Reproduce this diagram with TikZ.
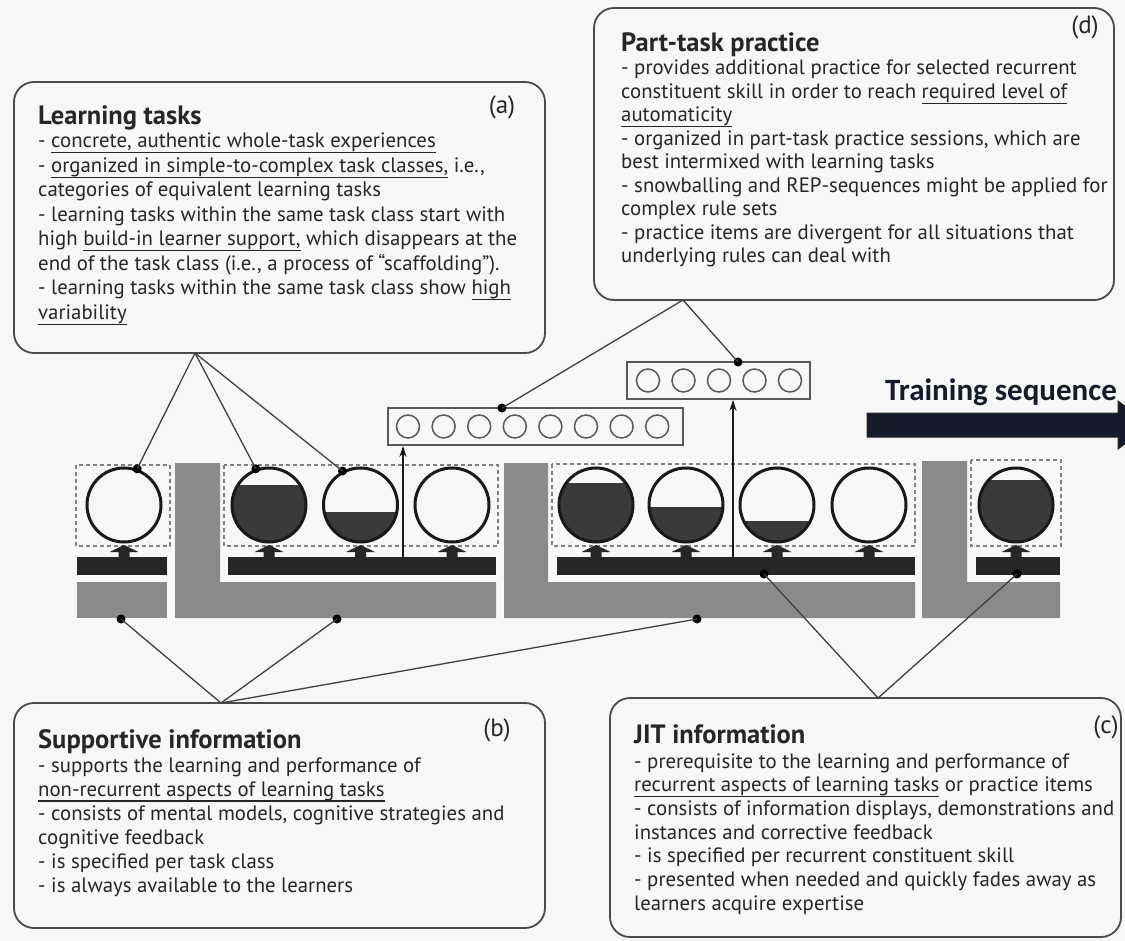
\documentclass[tikz,border=0pt]{standalone}
\usepackage{fontspec}
\setmainfont{PT Sans}
\newfontfamily\calib{Carlito}
\usetikzlibrary{arrows.meta}

\definecolor{bg}{HTML}{F7F7F7}
\definecolor{navy}{HTML}{151B2A}
\definecolor{boxline}{HTML}{4A4A4A}
\definecolor{grayblk}{HTML}{8A8A8A}
\definecolor{darkbar}{HTML}{262626}
\definecolor{ballfill}{HTML}{3A3A3A}
\definecolor{inkc}{HTML}{262626}

\newcommand{\ulx}[1]{\setbox0\hbox{#1}\rlap{\rule[-5.5pt]{\wd0}{1.3pt}}\box0\relax}
\newcommand{\upfat}[1]{\fill[darkbar] ({#1-5.5},558) -- ({#1-5.5},552) -- ({#1-14.5},552) -- (#1,545) -- ({#1+14.5},552) -- ({#1+5.5},552) -- ({#1+5.5},558) -- cycle;}
\newcommand{\textlines}[5]{%
  \foreach \t [count=\i] in {#5} {
    \node[body] (#1-\i) at (#2,{#3+(\i-1)*#4}) {\t};
  }}

\begin{document}
\begin{tikzpicture}[x=1pt,y=-1pt,
  infobox/.style={draw=boxline, line width=1.8pt, rounded corners=20pt, inner sep=0pt},
  body/.style={anchor=base west, inner sep=0pt, text=inkc, font=\fontsize{20.8}{25}\selectfont},
  titletxt/.style={anchor=base west, inner sep=0pt, text=inkc, font=\bfseries\fontsize{26.5}{31}\selectfont},
  lbl/.style={anchor=center, inner sep=0pt, text=inkc, font=\fontsize{25}{30}\selectfont},
  ball/.style={circle, draw=black!90, line width=3pt, minimum size=74pt, inner sep=0pt},
  smallball/.style={circle, draw=black!65, line width=1.5pt, minimum size=23pt, inner sep=0pt},
  smallbox/.style={draw=black!65, line width=1.6pt, inner sep=0pt},
  dotbox/.style={draw=black!50, line width=1.6pt, dash pattern=on 4pt off 3pt},
  dot/.style={circle, fill=black, inner sep=0pt, minimum size=9pt},
  conn/.style={draw=black!75, line width=1.3pt},
  thinarrow/.style={draw=black!90, line width=2pt, -{Stealth[length=11pt,width=7pt]}},
  trainlbl/.style={anchor=base west, inner sep=0pt, text=navy, font=\calib\bfseries\fontsize{31}{36}\selectfont}
]
\useasboundingbox (0,0) rectangle (1125,941);
\clip (0,0) rectangle (1125,941);
\fill[bg] (0,0) rectangle (1125,941);

% gray blocks
\fill[grayblk] (77,582) rectangle (167,618);
\fill[grayblk] (175,463) -- (220,463) -- (220,582) -- (496,582) -- (496,618) -- (175,618) -- cycle;
\fill[grayblk] (504,463) -- (548,463) -- (548,582) -- (915,582) -- (915,618) -- (504,618) -- cycle;
\fill[grayblk] (922,461) -- (967,461) -- (967,582) -- (1060,582) -- (1060,618) -- (922,618) -- cycle;

% dark bars
\fill[darkbar] (77,557) rectangle (167,575);
\fill[darkbar] (228,557) rectangle (496,575);
\fill[darkbar] (557,557) rectangle (915,575);
\fill[darkbar] (976,557) rectangle (1060,575);

% dotted task-class boxes
\draw[dotbox] (76,465) rectangle (170,546);
\draw[dotbox] (224,465) rectangle (498,546);
\draw[dotbox] (552,464) rectangle (915,546);
\draw[dotbox] (971,460) rectangle (1061,546);

% learning task circles
\foreach \x/\f [count=\i] in {124/600, 269/485, 360.5/512, 452/600, 596/483, 686/507, 777/521, 869/600, 1016/480} {
  \begin{scope}
    \clip (\x,505) circle[radius=37];
    \fill[ballfill] ({\x-40},\f) rectangle ({\x+40},545);
  \end{scope}
  \node[ball] (c\i) at (\x,505) {};
  \upfat{\x}
}

% part-task practice boxes
\node[smallbox, minimum width=295pt, minimum height=37pt] (box8) at (535.5,426.5) {};
\foreach \k in {0,...,7} {
  \node[smallball] (p8-\k) at ({408+35.6*\k},426.5) {};
}
\node[smallbox, minimum width=183pt, minimum height=37pt] (box5) at (718.5,380.5) {};
\foreach \k in {0,...,4} {
  \node[smallball] (p5-\k) at ({648+35.5*\k},380.5) {};
}

% thin arrows from whole-task bar up to part-task boxes
\coordinate (ar1) at (403,557);
\coordinate (ar2) at (733,557);
\draw[thinarrow] (ar1) -- (ar1 |- box8.south);
\draw[thinarrow] (ar2) -- (ar2 |- box5.south);

% info boxes
\node[infobox, minimum width=531pt, minimum height=271pt] (boxA) at (279.5,217.5) {};
\node[infobox, minimum width=520pt, minimum height=292pt] (boxD) at (854,154) {};
\node[infobox, minimum width=531pt, minimum height=225pt] (boxB) at (279.5,815.5) {};
\node[infobox, minimum width=511pt, minimum height=239pt] (boxC) at (865.5,817.5) {};

% apex coordinates
\coordinate (apA) at (195,353);
\coordinate (apD) at (683,300);
\coordinate (apB) at (221,703);
\coordinate (apC) at (878,698);

% dots
\node[dot] (dA1) at (c1.70) {};
\node[dot] (dA2) at (c2.110) {};
\node[dot] (dA3) at (c3.118) {};
\node[dot] (dD1) at (502,408) {};
\node[dot] (dD2) at (738,362) {};
\node[dot] (dB1) at (121,619) {};
\node[dot] (dB2) at (337,619) {};
\node[dot] (dB3) at (697,619) {};
\node[dot] (dC1) at (764,574) {};
\node[dot] (dC2) at (1017,574) {};

% connectors
\draw[conn] (apA) -- (dA1.center);
\draw[conn] (apA) -- (dA2.center);
\draw[conn] (apA) -- (dA3.center);
\draw[conn] (apD) -- (dD1.center);
\draw[conn] (apD) -- (dD2.center);
\draw[conn] (apB) -- (dB1.center);
\draw[conn] (apB) -- (dB2.center);
\draw[conn] (apB) -- (dB3.center);
\draw[conn] (apC) -- (dC1.center);
\draw[conn] (apC) -- (dC2.center);

% box (a)
\node[titletxt] (tA) at (38,125) {Learning tasks};
\node[lbl] (lA) at (502,107) {(a)};
\textlines{a}{38}{148}{24.5}{
  {- \ulx{concrete, authentic whole-task experiences}},
  {- \ulx{organized in simple-to-complex task classes,} i.e.,},
  {categories of equivalent learning tasks},
  {- learning tasks within the same task class start with},
  {high \ulx{build-in learner support,} which disappears at the},
  {end of the task class (i.e., a process of “scaffolding”).},
  {- learning tasks within the same task class show \ulx{high}},
  {\ulx{variability}}}

% box (d)
\node[titletxt] (tD) at (621,52) {Part-task practice};
\node[lbl] (lD) at (1085,27) {(d)};
\textlines{d}{621}{75}{23.5}{
  {- provides additional practice for selected recurrent},
  {constituent skill in order to reach \ulx{required level of}},
  {\ulx{automaticity}},
  {- organized in part-task practice sessions, which are},
  {best intermixed with learning tasks},
  {- snowballing and REP-sequences might be applied for},
  {complex rule sets},
  {- practice items are divergent for all situations that},
  {underlying rules can deal with}}

% box (b)
\node[titletxt] (tB) at (38,748) {Supportive information};
\node[lbl] (lB) at (497,730) {(b)};
\textlines{b}{38}{772}{24}{
  {- supports the learning and performance of},
  {\ulx{non-recurrent aspects of learning tasks}},
  {- consists of mental models, cognitive strategies and},
  {cognitive feedback},
  {- is specified per task class},
  {- is always available to the learners}}

% box (c)
\node[titletxt] (tC) at (634,743) {JIT information};
\node[lbl] (lC) at (1106,727) {(c)};
\textlines{c}{634}{768}{23.7}{
  {- prerequisite to the learning and performance of},
  {\ulx{recurrent aspects of learning tasks} or practice items},
  {- consists of information displays, demonstrations and},
  {instances and corrective feedback},
  {- is specified per recurrent constituent skill},
  {- presented when needed and quickly fades away as},
  {learners acquire expertise}}

% training sequence arrow
\fill[navy, draw=black!85, line width=1pt] (867,413) -- (1118,413) -- (1118,401) -- (1150,425) -- (1118,449) -- (1118,437) -- (867,437) -- cycle;
\node[trainlbl] (train) at (885,400) {Training sequence};
\end{tikzpicture}
\end{document}
